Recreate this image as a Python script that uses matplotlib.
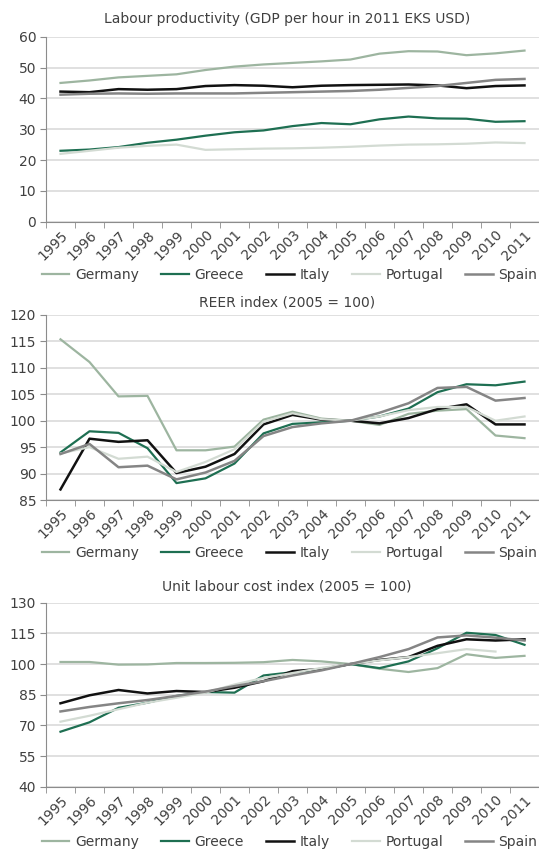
import numpy as np
import matplotlib.pyplot as plt
from matplotlib.transforms import ScaledTranslation


# Data

years = ['1995', '1996', '1997', '1998', '1999', '2000', '2001', '2002', '2003',
         '2004', '2005', '2006', '2007', '2008', '2009', '2010', '2011']
countries = ['Germany', 'Greece', 'Italy', 'Portugal', 'Spain']

# Labour productivity (GDP per hour in 2011 EKS USD)
prod_germany = [45.0, 45.8, 46.8, 47.3, 47.8, 49.2, 50.3, 51.0, 51.5, 52.0, 52.6, 54.5, 55.3, 55.2, 54.0, 54.6, 55.5]
prod_greece = [23.0, 23.4, 24.2, 25.6, 26.6, 27.9, 29.0, 29.6, 31.0, 32.0, 31.6, 33.2, 34.1, 33.5, 33.4, 32.4, 32.6]
prod_italy = [42.2, 42.0, 43.0, 42.8, 43.0, 44.0, 44.3, 44.1, 43.6, 44.1, 44.3, 44.4, 44.5, 44.2, 43.3, 44.0, 44.2]
prod_portugal = [22.0, 23.0, 24.0, 24.6, 25.0, 23.3, 23.5, 23.7, 23.8, 24.0, 24.3, 24.7, 25.0, 25.1, 25.3, 25.7, 25.5]
prod_spain = [41.2, 41.5, 41.6, 41.5, 41.6, 41.6, 41.6, 41.8, 42.0, 42.2, 42.4, 42.8, 43.4, 44.0, 45.0, 46.0, 46.3]

# REER index (2005 = 100)
reer_germany = [115.4, 111.1, 104.6, 104.7, 94.4, 94.4, 95.1, 100.2, 101.7, 100.4, 100.0, 99.2, 101.3, 101.9, 102.2, 97.2, 96.7]
reer_greece = [94.0, 98.0, 97.7, 94.8, 88.2, 89.1, 91.9, 97.6, 99.4, 99.7, 100.0, 100.8, 102.3, 105.4, 106.9, 106.7, 107.4]
reer_italy = [87.0, 96.6, 96.0, 96.3, 90.1, 91.3, 93.7, 99.3, 101.1, 100.2, 100.0, 99.5, 100.5, 102.2, 103.1, 99.3, 99.3]
reer_portugal = [93.8, 95.0, 92.8, 93.2, 90.3, 92.2, 94.6, 99.8, 101.4, 100.3, 100.0, 100.8, 102.0, 102.6, 102.6, 100.0, 100.8]
reer_spain = [93.7, 95.6, 91.2, 91.5, 88.9, 90.2, 92.4, 97.1, 98.8, 99.5, 100.0, 101.5, 103.3, 106.2, 106.4, 103.8, 104.3]

# Unit labour cost index (2005 = 100)
ulc_germany = [101.0, 101.0, 99.7, 99.8, 100.5, 100.5, 100.6, 100.9, 102.0, 101.3, 100.0, 97.7, 96.1, 98.0, 104.8, 103.0, 104.0]
ulc_greece = [66.9, 71.5, 78.6, 81.1, 84.4, 86.3, 86.0, 94.4, 96.0, 97.3, 100.0, 98.0, 101.3, 107.7, 115.3, 114.2, 109.4]
ulc_italy = [80.8, 84.7, 87.3, 85.6, 86.8, 86.3, 88.4, 91.6, 96.5, 97.6, 100.0, 102.0, 103.4, 108.9, 112.1, 111.5, 112.1]
ulc_portugal = [71.8, 74.7, 77.9, 81.1, 83.5, 86.0, 90.0, 93.2, 95.6, 98.1, 100.0, 101.8, 103.4, 105.3, 107.3, 106.1, np.nan]
ulc_spain = [76.8, 79.0, 80.8, 82.4, 84.4, 86.5, 89.2, 91.6, 94.4, 96.9, 100.0, 103.4, 107.3, 113.0, 114.0, 112.9, 111.5]

# Styles
line_colours = ['#9db5a0', '#1e6f52', '#111111', '#d3dbd3', '#858585']
line_widths = [1.6, 1.6, 1.8, 1.6, 1.8]
text_colour = '#404040'
FS = 10

W, H = 539, 850
fig = plt.figure(figsize=(W / 100, H / 100), dpi=100)


def draw_panel(top_px, bottom_px, title, title_px, series, ymin, ymax, ystep, legend_px):
    """Draws one line chart panel with its title and legend row"""
    left_px = 46
    ax = fig.add_axes([left_px / W, 1 - bottom_px / H, 1 - left_px / W, (bottom_px - top_px) / H])
    x = np.arange(len(years))
    handles = []
    for name, vals, col, lw in zip(countries, series, line_colours, line_widths):
        h, = ax.plot(x, vals, color=col, lw=lw, label=name)
        handles.append(h)

    ax.set_xlim(-0.5, len(years) - 0.5)
    ax.set_ylim(ymin, ymax)
    ax.set_yticks(np.arange(ymin, ymax + 1, ystep))
    ax.yaxis.grid(True, color='#dadada', lw=1.2)
    ax.set_axisbelow(True)

    ax.set_xticks(x)
    ax.set_xticklabels(years, rotation=45, ha='right', va='center', rotation_mode='anchor')
    ax.set_xticks(np.arange(len(years) + 1) - 0.5, minor=True)
    ax.tick_params(axis='x', which='major', length=0, pad=8, labelsize=FS, labelcolor=text_colour)
    ax.tick_params(axis='x', which='minor', length=4, color='#8c8c8c', direction='out')
    ax.tick_params(axis='y', length=4, color='#8c8c8c', pad=3, labelsize=FS, labelcolor=text_colour)
    for lbl in ax.get_xticklabels():
        lbl.set_transform(lbl.get_transform() + ScaledTranslation(5 / 100, 0, fig.dpi_scale_trans))

    ax.spines['top'].set_visible(False)
    ax.spines['right'].set_visible(False)
    ax.spines['left'].set_color('#8c8c8c')
    ax.spines['bottom'].set_color('#8c8c8c')

    fig.text(287 / W, 1 - title_px / H, title, ha='center', va='center', fontsize=FS, color=text_colour)
    leg = fig.legend(handles, countries, loc='center left', bbox_to_anchor=(41.7 / W, 1 - legend_px / H),
                     ncol=5, frameon=False, fontsize=FS, handlelength=2.0, handletextpad=0.4,
                     columnspacing=1.6, borderpad=0, borderaxespad=0)
    for t in leg.get_texts():
        t.set_color(text_colour)


draw_panel(36.7, 221.7, 'Labour productivity (GDP per hour in 2011 EKS USD)', 19,
           [prod_germany, prod_greece, prod_italy, prod_portugal, prod_spain], 0, 60, 10, 275)

draw_panel(315, 500, 'REER index (2005 = 100)', 302,
           [reer_germany, reer_greece, reer_italy, reer_portugal, reer_spain], 85, 120, 5, 553)

draw_panel(602.7, 786.7, 'Unit labour cost index (2005 = 100)', 586,
           [ulc_germany, ulc_greece, ulc_italy, ulc_portugal, ulc_spain], 40, 130, 15, 842)

plt.savefig('out.png', dpi=100)
